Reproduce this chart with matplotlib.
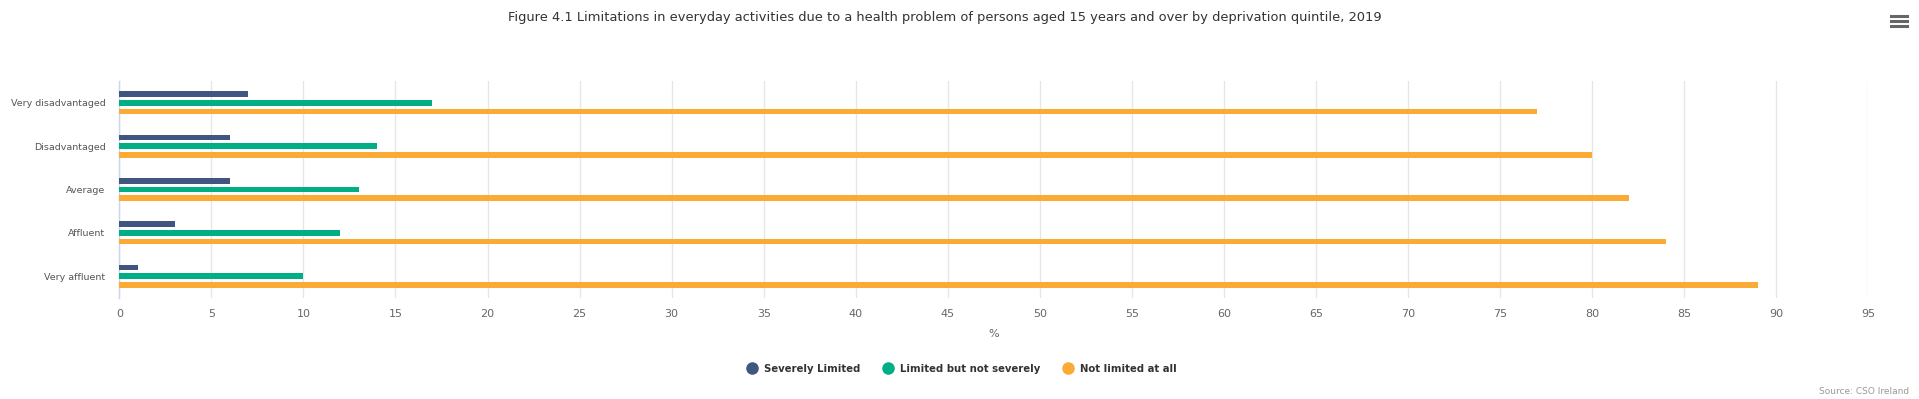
import numpy as np
import matplotlib.pyplot as plt
from matplotlib.lines import Line2D

# data
categories = ["Very disadvantaged", "Disadvantaged", "Average", "Affluent", "Very affluent"]
series_names = ["Severely Limited", "Limited but not severely", "Not limited at all"]
severely = [7, 6, 6, 3, 1]
limited = [17, 14, 13, 12, 10]
not_limited = [77, 80, 82, 84, 89]
x_ticks = list(range(0, 100, 5))

colors = ["#405580", "#00ae86", "#fbaa36"]
title = ("Figure 4.1 Limitations in everyday activities due to a health problem "
         "of persons aged 15 years and over by deprivation quintile, 2019")

fig = plt.figure(figsize=(19.19, 3.99), dpi=100)
ax = fig.add_axes([119.3 / 1919, 1 - 298 / 399, (1868.4 - 119.3) / 1919, 217 / 399])

y = np.arange(len(categories))
offsets = [-0.2, 0.0, 0.2]
for vals, off, col, name in zip([severely, limited, not_limited], offsets, colors, series_names):
    ax.barh(y + off, vals, height=0.13, color=col, label=name, zorder=3)

ax.set_ylim(len(categories) - 0.5, -0.5)
ax.set_xlim(0, 95)
ax.set_xticks(x_ticks)
ax.set_yticks(y)
ax.set_yticklabels(categories)

ax.grid(axis="x", color="#e6e6e6", linewidth=1, zorder=0)
for side in ["top", "right", "bottom"]:
    ax.spines[side].set_visible(False)
ax.spines["left"].set_color("#ccd6eb")
ax.spines["left"].set_linewidth(1)

ax.tick_params(axis="y", length=0, pad=10, labelsize=6.8, labelcolor="#555555")
ax.tick_params(axis="x", length=0, pad=8, labelsize=8, labelcolor="#666666")
ax.set_xlabel("%", fontsize=8, color="#666666", labelpad=7)

fig.text(0.4925, 1 - 17 / 399, title, ha="center", va="center", fontsize=9.4, color="#333333")

handles = [Line2D([], [], marker="o", linestyle="", markersize=8, color=c) for c in colors]
fig.legend(handles, series_names, loc="center", bbox_to_anchor=(0.5, 1 - 369 / 399),
           ncol=3, frameon=False, handletextpad=0.2, columnspacing=1.7,
           prop={"size": 7.3, "weight": "bold"}, labelcolor="#333333")

fig.text(1909 / 1919, 1 - 392 / 399, "Source: CSO Ireland", ha="right", va="center",
         fontsize=6.5, color="#999999")

# menu icon in the top right corner
for yy in [16, 21, 26]:
    fig.add_artist(Line2D([1891 / 1919, 1907 / 1919], [1 - yy / 399, 1 - yy / 399],
                          color="#666666", linewidth=2.2, transform=fig.transFigure))

fig.savefig("out.png", dpi=100)
